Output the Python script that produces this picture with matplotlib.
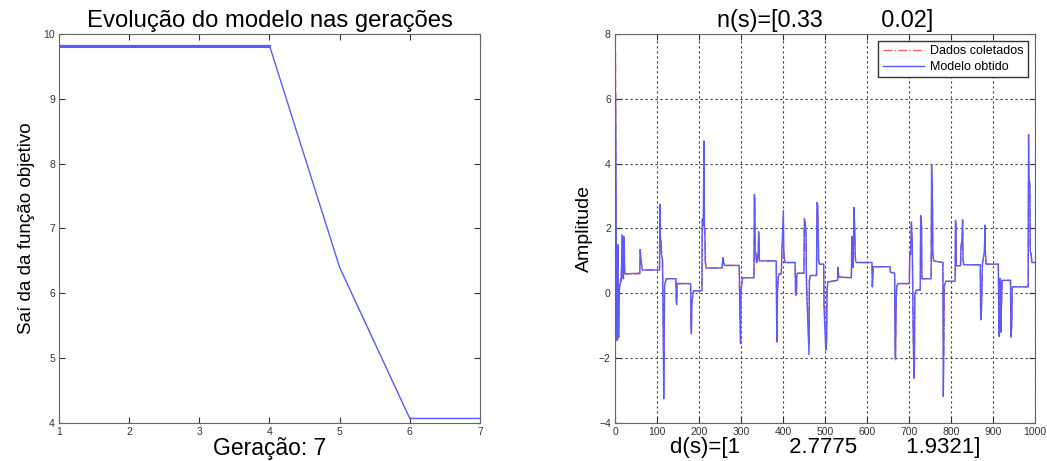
import matplotlib
matplotlib.use('Agg')
import matplotlib.pyplot as plt

plt.rcParams['font.family'] = ['Liberation Sans', 'DejaVu Sans']

# ---------- Left: objective function over generations ----------
generations = [1, 2, 3, 4, 5, 6, 7]
objective = [9.82, 9.82, 9.82, 9.82, 6.4, 4.07, 4.07]

# ---------- Right: collected data vs obtained model ----------
sample_x = [0, 1, 2, 3, 4, 5, 6, 7, 8, 9, 10, 11, 13, 14, 15, 17, 18, 19, 20, 21, 22, 23, 24,
            59, 60, 62, 63, 65, 106, 107, 108, 110, 111, 113, 114, 116, 117, 118, 120, 122,
            145, 146, 147, 148, 180, 181, 182, 183, 184, 186, 188, 207, 208, 209, 210, 212,
            213, 214, 215, 217, 255, 257, 259, 261, 296, 297, 299, 300, 302, 304, 331, 332,
            333, 334, 336, 337, 339, 341, 342, 343, 344, 384, 385, 386, 387, 389, 391, 396,
            398, 401, 402, 403, 405, 429, 430, 432, 433, 435, 450, 451, 453, 455, 456, 462,
            463, 465, 480, 481, 483, 484, 485, 487, 497, 498, 500, 502, 504, 505, 507, 530,
            531, 533, 563, 564, 566, 567, 569, 571, 572, 573, 575, 612, 613, 615, 655, 656,
            666, 667, 668, 670, 671, 674, 701, 702, 704, 706, 708, 710, 712, 713, 714, 716,
            718, 727, 728, 730, 731, 753, 754, 755, 756, 757, 759, 781, 782, 783, 784, 786,
            788, 810, 811, 812, 813, 823, 824, 826, 828, 829, 831, 870, 871, 873, 875, 880,
            881, 882, 884, 913, 914, 915, 916, 918, 919, 920, 922, 942, 943, 945, 946, 984,
            985, 986, 988, 989, 991, 993, 1000]

model_y = [0.0, 6.2, 4.6, 1.5, 0.7, -1.45, 1.0, 1.5, -1.3, -1.35, -0.2, 0.25, 0.3, 0.45, 0.4, 1.8, 1.75, 0.5, 0.45, 1.75, 1.7, 0.65, 0.6,
           0.62, 1.35, 1.0, 0.9, 0.72, 0.72, 2.75, 1.7, 1.6, 1.15, 1.05, 0.1, -3.25, -2.0, 0.2, 0.35, 0.45,
           0.45, -0.3, -0.35, 0.3, 0.3, -1.0, -1.25, -0.3, -0.2, 0.0, 0.08, 0.08, 2.3, 2.3, 2.1, 4.7,
           2.05, 1.95, 1.0, 0.78, 0.78, 1.1, 0.95, 0.86, 0.86, -0.35, -1.55, 0.1, 0.3, 0.48, 0.48, 3.05,
           2.9, 1.3, 1.2, 0.95, 1.0, 1.25, 1.9, 1.7, 1.0, 1.0, -0.85, -1.5, 0.1, 0.5, 0.6, 0.6,
           1.5, 2.55, 1.3, 1.1, 0.95, 0.95, -0.05, -0.05, 0.55, 0.62, 0.62, 2.3, 2.2, 1.9, 0.3, -1.9,
           0.4, 0.55, 0.55, 2.8, 2.7, 1.9, 1.0, 0.9, 0.9, -0.5, -1.1, -1.75, -1.5, 0.1, 0.35, 0.4,
           0.8, 0.5, 0.48, 1.75, 1.6, 0.8, 2.65, 2.05, 1.2, 1.0, 0.95, 0.95, 0.2, 0.82, 0.82, 0.65,
           0.62, -1.5, -2.0, 0.0, 0.22, 0.3, 0.3, 1.25, 1.2, 2.2, 1.6, -1.0, -2.6, -2.3, -0.05, 0.05,
           0.1, 0.1, 2.4, 2.2, 0.45, 0.45, 3.97, 3.5, 2.9, 1.2, 1.0, 0.95, -3.18, -2.0, 0.2, 0.3,
           0.37, 0.37, 2.25, 2.1, 0.85, 0.85, 1.45, 1.6, 2.27, 1.0, 0.88, 0.88, -0.82, -0.5, 0.9, 1.3,
           2.1, 1.3, 0.9, 0.9, -0.5, -1.33, 0.45, 0.45, -1.2, -0.6, 0.4, 0.4, -1.35, -1.0, 0.2, 0.2,
           4.9, 3.5, 3.4, 1.3, 1.2, 0.95, 0.95]

data_y = [0.0, 7.4, 5.0, 1.3, 0.8, -1.5, 0.9, 1.4, -1.4, -1.3, -0.1, 0.2, 0.3, 0.45, 0.4, 1.7, 1.7, 0.5, 0.45, 1.0, 0.9, 0.62, 0.6,
          0.6, 1.2, 1.05, 0.88, 0.72, 0.72, 1.8, 1.7, 1.5, 1.1, 1.0, 0.0, -2.05, -1.9, 0.2, 0.35, 0.45,
          0.45, -0.3, -0.3, 0.3, 0.3, -0.8, -1.0, -0.3, -0.2, 0.0, 0.08, 0.08, 2.25, 2.2, 2.1, 2.1,
          1.95, 1.8, 1.0, 0.78, 0.78, 1.05, 0.95, 0.86, 0.86, -0.3, -1.2, 0.1, 0.3, 0.48, 0.48, 2.95,
          2.85, 1.3, 1.15, 0.95, 1.0, 1.2, 1.6, 1.5, 1.0, 1.0, -0.6, -1.1, 0.1, 0.5, 0.6, 0.6,
          1.5, 1.6, 1.3, 1.1, 0.95, 0.95, 0.0, 0.0, 0.55, 0.62, 0.62, 2.1, 2.0, 1.8, 0.4, -1.6,
          0.4, 0.55, 0.55, 2.6, 2.5, 1.9, 1.0, 0.9, 0.9, -0.5, -0.4, -1.4, -1.3, 0.1, 0.35, 0.4,
          0.75, 0.5, 0.48, 1.7, 1.5, 0.8, 2.05, 2.0, 1.2, 1.0, 0.95, 0.95, 0.2, 0.82, 0.82, 0.65,
          0.62, -1.4, -2.05, 0.0, 0.22, 0.3, 0.3, 1.2, 1.2, 2.1, 1.5, -1.0, -2.65, -2.3, -0.05, 0.05,
          0.1, 0.1, 2.3, 2.1, 0.45, 0.45, 2.95, 2.9, 2.8, 1.2, 1.0, 0.95, -2.0, -1.9, 0.2, 0.3,
          0.37, 0.37, 2.2, 2.1, 0.85, 0.85, 1.4, 1.6, 1.9, 1.0, 0.88, 0.88, -0.6, -0.4, 0.9, 1.3,
          2.05, 1.3, 0.9, 0.9, -0.5, -0.1, 0.45, 0.45, -1.0, -0.6, 0.4, 0.4, -1.3, -1.0, 0.2, 0.2,
          3.6, 3.55, 3.3, 1.3, 1.2, 0.95, 0.95]

assert len(sample_x) == len(model_y) == len(data_y)

blue = '#5a5aff'
red = '#ff6060'

fig = plt.figure(figsize=(10.47, 4.61), dpi=100)

# ---------- Left plot ----------
ax1 = fig.add_axes([0.0564, 0.0824, 0.402, 0.844])
ax1.plot(generations, objective, color=blue, lw=1.0)
ax1.plot(generations[:4], objective[:4], color=blue, lw=2.2)
ax1.set_xlim(1, 7)
ax1.set_ylim(4, 10)
ax1.set_xticks(generations)
ax1.set_yticks([4, 5, 6, 7, 8, 9, 10])
ax1.set_title('Evolução do modelo nas gerações', fontsize=17.2, pad=5)
ax1.set_xlabel('Geração: 7', fontsize=16.5, labelpad=0)
ax1.set_ylabel('Saí da da função objetivo', fontsize=13.5, labelpad=6)

# ---------- Right plot ----------
ax2 = fig.add_axes([0.5874, 0.0824, 0.401, 0.844])
ax2.plot(sample_x, data_y, color=red, lw=1.0, ls='-.', label='Dados coletados')
ax2.plot(sample_x, model_y, color=blue, lw=1.0, label='Modelo obtido')
ax2.set_xlim(0, 1000)
ax2.set_ylim(-4, 8)
ax2.set_xticks(range(0, 1001, 100))
ax2.set_yticks(range(-4, 9, 2))
ax2.grid(True, color='0.25', ls=(0, (2, 2.5)), lw=0.8)
ax2.set_title('n(s)=[0.33         0.02]', fontsize=16.8, pad=5)
ax2.set_xlabel('d(s)=[1        2.7775        1.9321]', fontsize=16, labelpad=0)
ax2.set_ylabel('Amplitude', fontsize=14, labelpad=4)
leg = ax2.legend(loc='upper right', fontsize=9, fancybox=False, framealpha=1,
                 borderpad=0.35, handlelength=3.3, handletextpad=0.5,
                 labelspacing=0.3, borderaxespad=0.55)
leg.get_frame().set_edgecolor('0.2')
leg.get_frame().set_linewidth(1.0)

for ax in (ax1, ax2):
    ax.tick_params(direction='in', top=True, right=True, labelsize=7.5, length=4,
                   colors='0.2', pad=3)
    for s in ax.spines.values():
        s.set_color('0.4')

fig.savefig('out.png', dpi=100)
